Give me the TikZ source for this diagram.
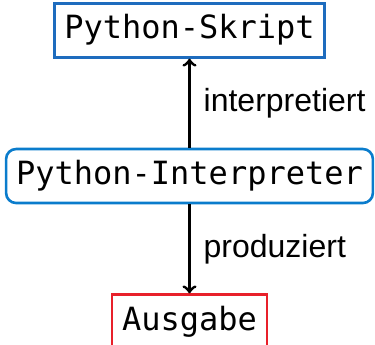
\documentclass[tikz,border=0pt]{standalone}
\usepackage{fontspec}
\setsansfont{Liberation Sans}
\setmonofont{DejaVu Sans Mono}
\usepackage{tikz}
\usetikzlibrary{matrix,arrows}

\definecolor{skriptblue}{RGB}{30,108,190}
\definecolor{interblue}{RGB}{10,124,204}
\definecolor{ausgabered}{RGB}{232,32,42}

\begin{document}
\begin{tikzpicture}[
  box/.style={draw, line width=1.3pt, inner xsep=5pt, minimum height=27pt,
    text height=12pt, text depth=3.5pt, font=\fontsize{16}{19}\selectfont\ttfamily},
  lbl/.style={right, xshift=3pt, font=\sffamily\fontsize{16}{19}\selectfont}]
  \useasboundingbox (0,0) rectangle (187.5pt,-172pt);
  \matrix (m) [matrix of nodes, row sep=44.5pt, nodes={box}] at (94.75pt,-88pt)
  {
|[draw=skriptblue]| Python-Skript \\
|[draw=interblue, rounded corners=5pt]| Python-Interpreter \\
|[draw=ausgabered]| Ausgabe \\
};
  \path[->, line width=1.5pt]
  (m-2-1) edge node [lbl] {interpretiert} (m-1-1)
  (m-2-1) edge node [lbl] {produziert} (m-3-1);
\end{tikzpicture}
\end{document}
